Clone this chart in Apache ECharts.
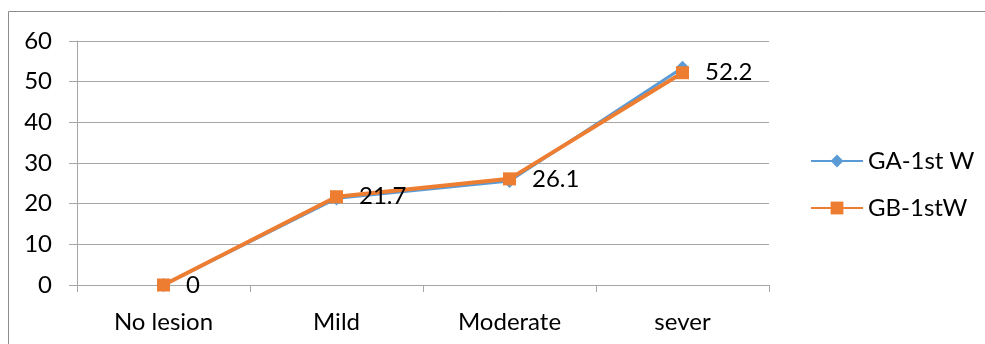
<!DOCTYPE html>
<html>
<head>
<meta charset="utf-8">
<script src="https://cdn.jsdelivr.net/npm/echarts@6/dist/echarts.min.js"></script>
<style>
  html, body { margin: 0; padding: 0; background: #fff; }
  #chart { width: 985px; height: 344px; }
</style>
</head>
<body>
<div id="chart"></div>
<script>
// Lesion severity distribution, first week, groups A and B
const categories = ['No lesion', 'Mild', 'Moderate', 'sever'];
const gaValues = [0, 21.3, 25.6, 53.4];
const gbValues = [0, 21.7, 26.1, 52.2];
const seriesNames = ['GA-1st W', 'GB-1stW'];
const yTicks = { min: 0, max: 60, interval: 10 };

const FONT = 'Lato, "Open Sans", sans-serif';
const FS = 24;
const GRID = '#A6A6A6';

const chart = echarts.init(document.getElementById('chart'), null, { renderer: 'canvas' });

chart.setOption({
  animation: false,
  backgroundColor: '#fff',
  textStyle: { fontFamily: FONT },
  graphic: [
    // outer frame: top and left edges
    { type: 'line', shape: { x1: 8.5, y1: 11.5, x2: 985, y2: 11.5 }, style: { stroke: '#8C8C8C', lineWidth: 1 } },
    { type: 'line', shape: { x1: 8.5, y1: 11.5, x2: 8.5, y2: 344 }, style: { stroke: '#8C8C8C', lineWidth: 1 } }
  ],
  grid: { left: 77, right: 216, top: 41, bottom: 59, containLabel: false },
  legend: {
    orient: 'vertical',
    left: 805,
    top: 144,
    itemWidth: 52,
    itemHeight: 16,
    itemGap: 23,
    textStyle: { fontFamily: FONT, fontSize: FS, color: '#000' },
    data: seriesNames
  },
  xAxis: {
    type: 'category',
    data: categories,
    boundaryGap: true,
    axisLine: { lineStyle: { color: GRID, width: 1 } },
    axisTick: { show: true, length: 7, lineStyle: { color: GRID } },
    axisLabel: { fontFamily: FONT, fontSize: FS, color: '#000', margin: 25 }
  },
  yAxis: {
    type: 'value',
    min: yTicks.min,
    max: yTicks.max,
    interval: yTicks.interval,
    axisLine: { show: true, lineStyle: { color: GRID, width: 1 } },
    axisTick: { show: true, length: 8, lineStyle: { color: GRID } },
    axisLabel: { fontFamily: FONT, fontSize: FS, color: '#000', margin: 25 },
    splitLine: { show: true, lineStyle: { color: GRID, width: 1 } }
  },
  series: [
    {
      name: seriesNames[0],
      type: 'line',
      data: gaValues,
      symbol: 'diamond',
      symbolSize: 14,
      lineStyle: { color: '#5B9BD5', width: 3 },
      itemStyle: { color: '#5B9BD5' },
      z: 2
    },
    {
      name: seriesNames[1],
      type: 'line',
      data: gbValues,
      symbol: 'rect',
      symbolSize: 13,
      lineStyle: { color: '#ED7D31', width: 4 },
      itemStyle: { color: '#ED7D31' },
      label: {
        show: true,
        position: 'right',
        distance: 16,
        fontFamily: FONT,
        fontSize: FS,
        color: '#000'
      },
      z: 3
    }
  ]
});
</script>
</body>
</html>
